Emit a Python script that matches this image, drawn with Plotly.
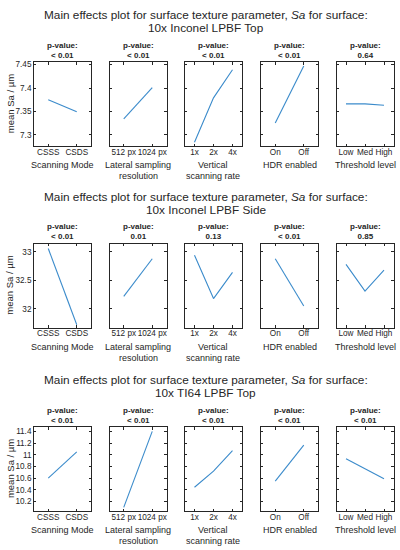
import plotly.graph_objects as go

# ---------------- data ----------------
scan_levels = ["CSSS", "CSDS"]
lateral_levels = ["512 px", "1024 px"]
vertical_levels = ["1x", "2x", "4x"]
hdr_levels = ["On", "Off"]
threshold_levels = ["Low", "Med", "High"]

factor_label_line1 = ["Scanning Mode", "Lateral sampling", "Vertical", "HDR enabled", "Threshold level"]
factor_label_line2 = ["", "resolution", "scanning rate", "", ""]

surface_names = ["10x Inconel LPBF Top", "10x Inconel LPBF Side", "10x TI64 LPBF Top"]

# 10x Inconel LPBF Top
inconel_top_scan = [7.375, 7.349]
inconel_top_lateral = [7.334, 7.401]
inconel_top_vertical = [7.284, 7.379, 7.439]
inconel_top_hdr = [7.325, 7.447]
inconel_top_threshold = [7.366, 7.366, 7.363]
inconel_top_p = ["< 0.01", "< 0.01", "< 0.01", "< 0.01", "0.64"]
inconel_top_yticks = [7.3, 7.35, 7.4, 7.45]
inconel_top_yticktext = ["7.3", "7.35", "7.4", "7.45"]
inconel_top_yrange = [7.276, 7.455]

# 10x Inconel LPBF Side
inconel_side_scan = [33.06, 31.72]
inconel_side_lateral = [32.22, 32.88]
inconel_side_vertical = [32.94, 32.18, 32.64]
inconel_side_hdr = [32.88, 32.05]
inconel_side_threshold = [32.78, 32.31, 32.68]
inconel_side_p = ["< 0.01", "0.01", "0.13", "< 0.01", "0.85"]
inconel_side_yticks = [32, 32.5, 33]
inconel_side_yticktext = ["32", "32.5", "33"]
inconel_side_yrange = [31.67, 33.14]

# 10x TI64 LPBF Top
ti64_top_scan = [10.60, 11.05]
ti64_top_lateral = [10.10, 11.40]
ti64_top_vertical = [10.445, 10.72, 11.07]
ti64_top_hdr = [10.55, 11.165]
ti64_top_threshold = [10.93, 10.76, 10.59]
ti64_top_p = ["< 0.01", "< 0.01", "< 0.01", "< 0.01", "< 0.01"]
ti64_top_yticks = [10.2, 10.4, 10.6, 10.8, 11, 11.2, 11.4]
ti64_top_yticktext = ["10.2", "10.4", "10.6", "10.8", "11", "11.2", "11.4"]
ti64_top_yrange = [10.04, 11.47]

# ---------------- layout geometry (pixels) ----------------
W, H = 400, 550
panel_left = [34, 109.5, 185, 261, 336.5]
panel_w = 57
row_top = [60.5, 242.8, 426.8]
panel_h = 84

TXT = "#262626"
FONT = "Liberation Sans"
LINE = "#3b8bcb"

levels = [scan_levels, lateral_levels, vertical_levels, hdr_levels, threshold_levels]
rows = [
    dict(vals=[inconel_top_scan, inconel_top_lateral, inconel_top_vertical, inconel_top_hdr, inconel_top_threshold],
         p=inconel_top_p, yt=inconel_top_yticks, ytt=inconel_top_yticktext, yr=inconel_top_yrange),
    dict(vals=[inconel_side_scan, inconel_side_lateral, inconel_side_vertical, inconel_side_hdr, inconel_side_threshold],
         p=inconel_side_p, yt=inconel_side_yticks, ytt=inconel_side_yticktext, yr=inconel_side_yrange),
    dict(vals=[ti64_top_scan, ti64_top_lateral, ti64_top_vertical, ti64_top_hdr, ti64_top_threshold],
         p=ti64_top_p, yt=ti64_top_yticks, ytt=ti64_top_yticktext, yr=ti64_top_yrange),
]

fig = go.Figure()
layout = {}
annotations = []

def py(px):
    return 1 - px / H

idx = 0
for r, row in enumerate(rows):
    top = row_top[r]
    bot = top + panel_h
    # titles
    annotations.append(dict(text="Main effects plot for surface texture parameter, <i>Sa</i> for surface:",
                            x=205.5 / W, y=py(top - 47), xref="paper", yref="paper",
                            xanchor="center", yanchor="middle", showarrow=False,
                            font=dict(size=11.8, color=TXT, family=FONT)))
    annotations.append(dict(text=surface_names[r],
                            x=205.5 / W, y=py(top - 34), xref="paper", yref="paper",
                            xanchor="center", yanchor="middle", showarrow=False,
                            font=dict(size=11.8, color=TXT, family=FONT)))
    # y label
    annotations.append(dict(text="mean Sa / µm", x=10 / W, y=py(top + panel_h / 2),
                            xref="paper", yref="paper", textangle=-90,
                            xanchor="center", yanchor="middle", showarrow=False,
                            font=dict(size=9.5, color=TXT, family=FONT)))
    for c in range(5):
        idx += 1
        xa = "xaxis" if idx == 1 else f"xaxis{idx}"
        ya = "yaxis" if idx == 1 else f"yaxis{idx}"
        xs = "x" if idx == 1 else f"x{idx}"
        ys = "y" if idx == 1 else f"y{idx}"
        lv = levels[c]
        n = len(lv)
        xpos = list(range(1, n + 1))
        fig.add_trace(go.Scatter(x=xpos, y=row["vals"][c], mode="lines",
                                 line=dict(color=LINE, width=1.1),
                                 xaxis=xs, yaxis=ys, showlegend=False, hoverinfo="skip"))
        l = panel_left[c]
        layout[xa] = dict(domain=[l / W, (l + panel_w) / W], anchor=ys,
                          range=[0.5, n + 0.5], tickvals=xpos, ticktext=lv, tickangle=0,
                          ticklabelstandoff=-2,
                          showline=True, mirror="ticks", linecolor=TXT, linewidth=0.8,
                          ticks="inside", ticklen=2.5, tickwidth=0.6, tickcolor=TXT,
                          showgrid=False, zeroline=False, fixedrange=True,
                          tickfont=dict(size=8.2, color=TXT, family=FONT))
        layout[ya] = dict(domain=[py(bot), py(top)], anchor=xs,
                          range=row["yr"], tickvals=row["yt"], ticktext=row["ytt"],
                          showticklabels=(c == 0),
                          showline=True, mirror="ticks", linecolor=TXT, linewidth=0.8,
                          ticks="inside", ticklen=2.5, tickwidth=0.6, tickcolor=TXT,
                          showgrid=False, zeroline=False, fixedrange=True,
                          tickfont=dict(size=8.2, color=TXT, family=FONT))
        cx = (l + panel_w / 2) / W
        annotations.append(dict(text="<b>p-value:</b><br><b>" + row["p"][c].replace("<", "&lt;") + "</b>",
                                x=cx, y=py(top - 12), xref="paper", yref="paper",
                                xanchor="center", yanchor="middle", showarrow=False,
                                font=dict(size=8, color=TXT, family=FONT)))
        annotations.append(dict(text=factor_label_line1[c], x=cx, y=py(bot + 19.5),
                                xref="paper", yref="paper", xanchor="center", yanchor="middle",
                                showarrow=False, font=dict(size=9, color=TXT, family=FONT)))
        if factor_label_line2[c]:
            annotations.append(dict(text=factor_label_line2[c], x=cx, y=py(bot + 30),
                                    xref="paper", yref="paper", xanchor="center", yanchor="middle",
                                    showarrow=False, font=dict(size=9, color=TXT, family=FONT)))

fig.update_layout(width=W, height=H, margin=dict(l=0, r=0, t=0, b=0),
                  paper_bgcolor="white", plot_bgcolor="white",
                  annotations=annotations, **layout)

fig.write_html("out.html", config={"displayModeBar": False},
               post_script="document.body.style.margin='0';document.body.style.overflow='hidden';")
